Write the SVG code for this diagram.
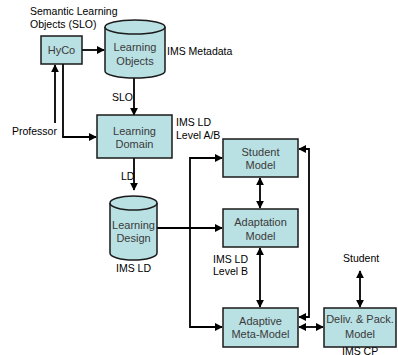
<svg xmlns="http://www.w3.org/2000/svg" width="398" height="355" viewBox="0 0 398 355">
  <style>
    .box { fill: #b9e0e3; stroke: #1a1a1a; stroke-width: 1.5; }
    .cyl { fill: #b9e0e3; stroke: #1a1a1a; stroke-width: 1.5; }
    .in { font-family: "Liberation Sans", Arial, sans-serif; font-size: 11px; fill: #3a3a3a; text-anchor: middle; }
    .lbl { font-family: "Liberation Sans", Arial, sans-serif; font-size: 10.5px; fill: #000; }
    .wire { fill: none; stroke: #000; stroke-width: 1.8; }
  </style>
  <defs>
    <marker id="ah" viewBox="0 0 10 10" refX="9" refY="5" markerWidth="4.5" markerHeight="4.5" orient="auto-start-reverse" markerUnits="strokeWidth">
      <path d="M0,0 L10,5 L0,10 Z" fill="#000"/>
    </marker>
  </defs>
  <rect width="398" height="355" fill="#fff"/>

  <!-- free-standing labels -->
  <text class="lbl" x="30" y="15">Semantic Learning</text>
  <text class="lbl" x="30" y="28">Objects (SLO)</text>
  <text class="lbl" x="167" y="55">IMS Metadata</text>
  <text class="lbl" x="112" y="101">SLO</text>
  <text class="lbl" x="12" y="135">Professor</text>
  <text class="lbl" x="176" y="126">IMS LD</text>
  <text class="lbl" x="176" y="139">Level A/B</text>
  <text class="lbl" x="121" y="180">LD</text>
  <text class="lbl" x="116" y="272">IMS LD</text>
  <text class="lbl" x="213" y="263">IMS LD</text>
  <text class="lbl" x="213" y="275">Level B</text>
  <text class="lbl" x="343" y="262">Student</text>
  <text class="lbl" x="342" y="354.5" font-size="9.5">IMS CP</text>

  <!-- connectors -->
  <g id="connectors">
    <path class="wire" d="M82,50 L104,50" marker-end="url(#ah)"/>
    <path class="wire" d="M134,78 L134,115" marker-end="url(#ah)"/>
    <path class="wire" d="M55,123 L55,65" marker-end="url(#ah)"/>
    <path class="wire" d="M63,64 L63,137 L96,137" marker-end="url(#ah)"/>
    <path class="wire" d="M134,158 L134,190" marker-end="url(#ah)"/>
    <path class="wire" d="M157,228 L222,228" marker-end="url(#ah)"/>
    <path class="wire" d="M222,158 L190,158 L190,327 L222,327" marker-start="url(#ah)" marker-end="url(#ah)"/>
    <path class="wire" d="M260,178 L260,208" marker-start="url(#ah)" marker-end="url(#ah)"/>
    <path class="wire" d="M260,248 L260,307" marker-start="url(#ah)" marker-end="url(#ah)"/>
    <path class="wire" d="M299,149 L309,149 L309,317 L299,317" marker-start="url(#ah)" marker-end="url(#ah)"/>
    <path class="wire" d="M299,327 L323,327" marker-start="url(#ah)" marker-end="url(#ah)"/>
    <path class="wire" d="M360,271 L360,307" marker-start="url(#ah)" marker-end="url(#ah)"/>
  </g>

  <g id="hyco">
    <rect class="box" x="41" y="36" width="41" height="28"/>
    <text class="in" x="61.5" y="54">HyCo</text>
  </g>

  <g id="learning-objects">
    <path class="cyl" d="M105,27 L105,71 A30,7 0 0 0 165,71 L165,27"/>
    <ellipse class="cyl" cx="135" cy="27" rx="30" ry="7"/>
    <text class="in" x="135" y="51">Learning</text>
    <text class="in" x="135" y="65">Objects</text>
  </g>

  <g id="learning-domain">
    <rect class="box" x="97" y="115" width="75" height="43"/>
    <text class="in" x="134.5" y="135">Learning</text>
    <text class="in" x="134.5" y="148">Domain</text>
  </g>

  <g id="learning-design">
    <path class="cyl" d="M110,203 L110,253 A23.5,7 0 0 0 157,253 L157,203"/>
    <ellipse class="cyl" cx="133.5" cy="203" rx="23.5" ry="7"/>
    <text class="in" x="133.5" y="229">Learning</text>
    <text class="in" x="133.5" y="242">Design</text>
  </g>

  <g id="student-model">
    <rect class="box" x="223" y="139" width="75" height="38"/>
    <text class="in" x="260.5" y="156">Student</text>
    <text class="in" x="260.5" y="169">Model</text>
  </g>

  <g id="adaptation-model">
    <rect class="box" x="223" y="209" width="75" height="38"/>
    <text class="in" x="260.5" y="226">Adaptation</text>
    <text class="in" x="260.5" y="240">Model</text>
  </g>

  <g id="adaptive-meta-model">
    <rect class="box" x="223" y="308" width="75" height="39"/>
    <text class="in" x="260.5" y="325">Adaptive</text>
    <text class="in" x="260.5" y="338">Meta-Model</text>
  </g>

  <g id="deliv-pack-model">
    <rect class="box" x="324" y="308" width="72" height="39"/>
    <text class="in" x="360" y="323">Deliv. &amp; Pack.</text>
    <text class="in" x="360" y="338">Model</text>
  </g>
</svg>
